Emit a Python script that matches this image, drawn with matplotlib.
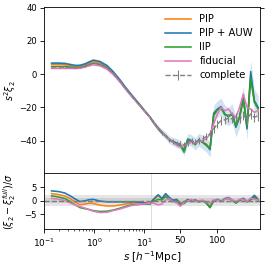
import numpy as np
import matplotlib
matplotlib.use("Agg")
import matplotlib.pyplot as plt

# separations: log part and linear part
s_small = [0.14, 0.2, 0.26, 0.33, 0.42, 0.52, 0.66, 0.8, 0.96, 1.3, 1.8, 2.4, 3.3, 4.2, 5.2, 6.6, 8.3, 10.4, 13.2]
s_large = list(range(15, 160, 5))

# s^2 xi_2
pip_small = [5.8, 5.8, 5.6, 5.0, 4.6, 4.7, 5.6, 6.8, 7.6, 6.9, 4.6, 1.0, -3.8, -8.0, -11.4, -15.2, -18.7, -22.3, -25.9]
auw_small = [6.6, 6.6, 6.4, 5.8, 5.2, 5.3, 6.2, 7.4, 8.4, 7.6, 5.2, 1.5, -3.5, -7.8, -11.2, -15.0, -18.5, -22.2, -25.8]
iip_small = [4.6, 4.6, 4.5, 4.2, 3.9, 4.0, 4.8, 5.8, 6.5, 5.8, 3.6, 0.2, -4.5, -8.6, -12.0, -15.6, -19.0, -22.5, -26.0]
fid_small = [3.4, 3.4, 3.4, 3.4, 3.3, 3.5, 4.2, 5.0, 5.6, 5.0, 3.0, -0.2, -4.8, -8.8, -12.2, -15.8, -19.2, -22.6, -26.1]
com_small = [4.2, 4.2, 4.2, 4.0, 3.8, 4.0, 4.8, 5.9, 6.7, 6.1, 4.2, 0.8, -4.0, -8.2, -11.6, -15.3, -18.8, -22.4, -26.0]

auw_large = [-28.5, -32.5, -35, -37, -39.5, -40.5, -41.5, -42.5, -46, -39, -40, -42, -39.5, -41, -42.5,
             -45.5, -23.5, -21, -19.5, -24, -25.5, -23.5, -32, -26, -13.5, -33, 1.5, -16, -20]
pip_large = [-28.5, -32.5, -35, -37, -39.5, -40.5, -41.5, -42.5, -45.5, -39.5, -40, -42, -39.5, -41, -42,
             -45, -24.5, -21.5, -20, -24, -25.5, -24, -31.5, -26, -14.5, -32, -1.0, -16.5, -20.5]
iip_large = [-28.5, -33, -35.5, -37, -39.5, -41, -42, -43, -47, -39.5, -40.5, -42.5, -40, -41, -43,
             -44.5, -25, -21.5, -20.5, -24.5, -25, -24.5, -31, -25.5, -15, -31, -3.0, -17, -21]
fid_large = [-28.5, -33, -35.5, -37, -39.5, -41, -43, -44, -43, -42, -41, -41.5, -40.5, -40, -39,
             -36, -30, -24, -20, -22, -21, -24, -26, -20, -12, -20, -21, -23, -22]
com_large = [-28.5, -33, -35.5, -37.5, -39.5, -40.5, -41.5, -42, -42.5, -41.5, -40, -41, -40, -39, -37.5,
             -36, -33, -30, -28, -27.5, -26.5, -27, -26, -27, -25, -27, -24, -26, -25]
com_err_large = [0.8, 0.9, 1.0, 1.1, 1.2, 1.3, 1.4, 1.5, 1.6, 1.7, 1.8, 1.9, 2.0, 2.1, 2.2,
                 2.3, 2.4, 2.4, 2.5, 2.5, 2.6, 2.6, 2.7, 2.7, 2.8, 2.8, 2.9, 2.9, 3.0]
auw_err_large = [1.5, 1.7, 1.9, 2.1, 2.3, 2.5, 2.7, 2.9, 3.1, 3.3, 3.5, 3.7, 3.9, 4.1, 4.3,
                 4.5, 4.7, 4.9, 5.1, 5.3, 5.5, 5.7, 5.9, 6.1, 6.3, 6.5, 6.7, 6.9, 7.1]

# residuals (xi_2 - xi_2^full)/sigma
pip_res_small = [2.6, 2.2, 1.7, 0.8, -0.5, -1.4, -1.2, -0.9, -1.0, -1.6, -1.9, -1.9, -1.6, -1.2, -0.9, -0.8, -0.7, -0.8, -1.1]
auw_res_small = [3.6, 3.3, 2.8, 1.8, 0.6, -0.3, 0.0, 0.4, 0.5, -0.1, -0.4, -0.4, -0.4, -0.4, -0.4, -0.4, -0.5, -0.8, -1.1]
iip_res_small = [1.8, 1.3, 0.8, -0.3, -1.5, -2.5, -2.9, -3.2, -3.6, -3.9, -3.8, -3.4, -2.7, -2.1, -1.6, -1.4, -1.3, -1.2, -1.2]
fid_res_small = [0.9, 0.5, 0.1, -0.8, -1.6, -2.1, -2.7, -3.3, -3.8, -4.3, -4.2, -3.6, -3.0, -2.4, -1.9, -1.5, -1.3, -1.1, -0.9]

auw_res_large = [0.3, 2.2, 0.8, 2.6, 1.2, 0.2, 0.5, -1.2, -0.6, 0.5, -0.2, 0.3, -0.3, 0.1, -0.8,
                 -2.5, 0.2, 0.5, -0.2, 0.8, 1.2, 0.3, -0.8, 0.3, 0.9, -0.3, 0.6, 2.0, 0.5]
pip_res_large = [0.1, 1.8, 0.6, 2.2, 1.0, 0.0, 0.3, -1.0, -0.4, 0.4, -0.2, 0.2, -0.2, 0.0, -0.6,
                 -2.2, 0.1, 0.4, -0.2, 0.6, 1.0, 0.2, -0.7, 0.2, 0.7, -0.3, 0.5, 1.7, 0.4]
iip_res_large = [-0.3, 0.5, 0.3, 1.5, 0.5, -0.3, 0.0, -1.3, -1.0, 0.2, -0.3, 0.0, -0.4, 0.0, -0.8,
                 -2.5, 0.0, 0.3, -0.2, 0.6, 0.8, 0.2, -0.8, 0.2, 0.6, -0.4, 0.4, 1.2, 0.3]
fid_res_large = [-0.8, -1.5, -1.2, 0.3, 0.8, -0.3, -0.8, -2.0, -0.5, 0.0, 0.5, -0.3, 0.0, 0.2, -0.4,
                 -1.0, 0.4, 0.2, -0.3, 0.5, 1.0, 0.3, -0.4, 0.6, 0.5, -0.2, 1.0, 0.5, 0.3]

s = np.array(s_small + s_large, dtype=float)
pip = np.array(pip_small + pip_large)
auw = np.array(auw_small + auw_large)
iip = np.array(iip_small + iip_large)
fid = np.array(fid_small + fid_large)
com = np.array(com_small + com_large)
com_err = np.array([0.3] * len(s_small) + com_err_large)
auw_err = np.array([0.9] * len(s_small) + auw_err_large)
pip_res = np.array(pip_res_small + pip_res_large)
auw_res = np.array(auw_res_small + auw_res_large)
iip_res = np.array(iip_res_small + iip_res_large)
fid_res = np.array(fid_res_small + fid_res_large)

# log scale below S0, linear above
S0 = 18.0
K = 0.01484


def forward(x):
    x = np.asarray(x, dtype=float)
    with np.errstate(divide="ignore", invalid="ignore"):
        lg = np.log10(np.clip(x, 1e-6, None))
    return np.where(x < S0, lg, np.log10(S0) + (x - S0) * K)


def inverse(p):
    p = np.asarray(p, dtype=float)
    with np.errstate(over="ignore"):
        return np.where(p < np.log10(S0), 10.0 ** p, S0 + (p - np.log10(S0)) / K)


fig = plt.figure(figsize=(3.5, 3.5), dpi=76)
ax1 = fig.add_axes([0.1665, 0.3496, 0.811, 0.623])
ax2 = fig.add_axes([0.1665, 0.139, 0.811, 0.2105])

ax1.fill_between(s, auw - auw_err, auw + auw_err, color="C0", alpha=0.2, lw=0)
ax1.plot(s, pip, color="C1", label="PIP")
ax1.plot(s, auw, color="C0", label="PIP + AUW")
ax1.plot(s, iip, color="C2", label="IIP")
ax1.plot(s, fid, color="C6", label="fiducial")
ax1.errorbar(s, com, yerr=com_err, color="C7", ls="--", lw=1.3, elinewidth=1.0, label="complete")

ax2.axhspan(-2, 2, color="gray", alpha=0.2, lw=0)
ax2.axhspan(-1, 1, color="gray", alpha=0.2, lw=0)
ax2.axvline(13.6, color="0.8", lw=0.6)
ax2.plot(s, pip_res, color="C1")
ax2.plot(s, auw_res, color="C0")
ax2.plot(s, iip_res, color="C2")
ax2.plot(s, fid_res, color="C6")
ax2.axhline(0, color="C7", ls="--", lw=1.3)

for ax in (ax1, ax2):
    ax.set_xscale("function", functions=(forward, inverse))
    ax.set_xlim(0.1, 157.6)
    ax.set_xticks([0.1, 1, 10, 50, 100])
    ax.set_xticks([0.2, 0.3, 0.4, 0.5, 0.6, 0.7, 0.8, 0.9, 2, 3, 4, 5, 6, 7, 8, 9], minor=True)
    ax.tick_params(axis="y", right=True, labelsize=8)
    ax.tick_params(axis="x", labelsize=8.5)
    ax.yaxis.set_label_coords(-0.12, 0.5)

ax1.set_ylim(-59.5, 40.2)
ax1.set_yticks([-40, -20, 0, 20, 40])
ax1.set_xticklabels([])
ax1.set_ylabel(r"$s^2\xi_2$", fontsize=9)
ax1.legend(loc="upper right", frameon=False, fontsize=9.5, handlelength=2.6,
           labelspacing=0.4, borderaxespad=0.3)

ax2.set_ylim(-10.3, 10.1)
ax2.set_yticks([-5, 0, 5])
ax2.set_xticklabels([r"$10^{-1}$", r"$10^{0}$", r"$10^{1}$", "50", "100"])
ax2.set_ylabel(r"$(\xi_2-\xi_2^{full})/\sigma$", fontsize=9)
ax2.set_xlabel(r"$s\ [h^{-1}\mathrm{Mpc}]$", fontsize=10, labelpad=0)

fig.savefig("out.png", dpi=76)
